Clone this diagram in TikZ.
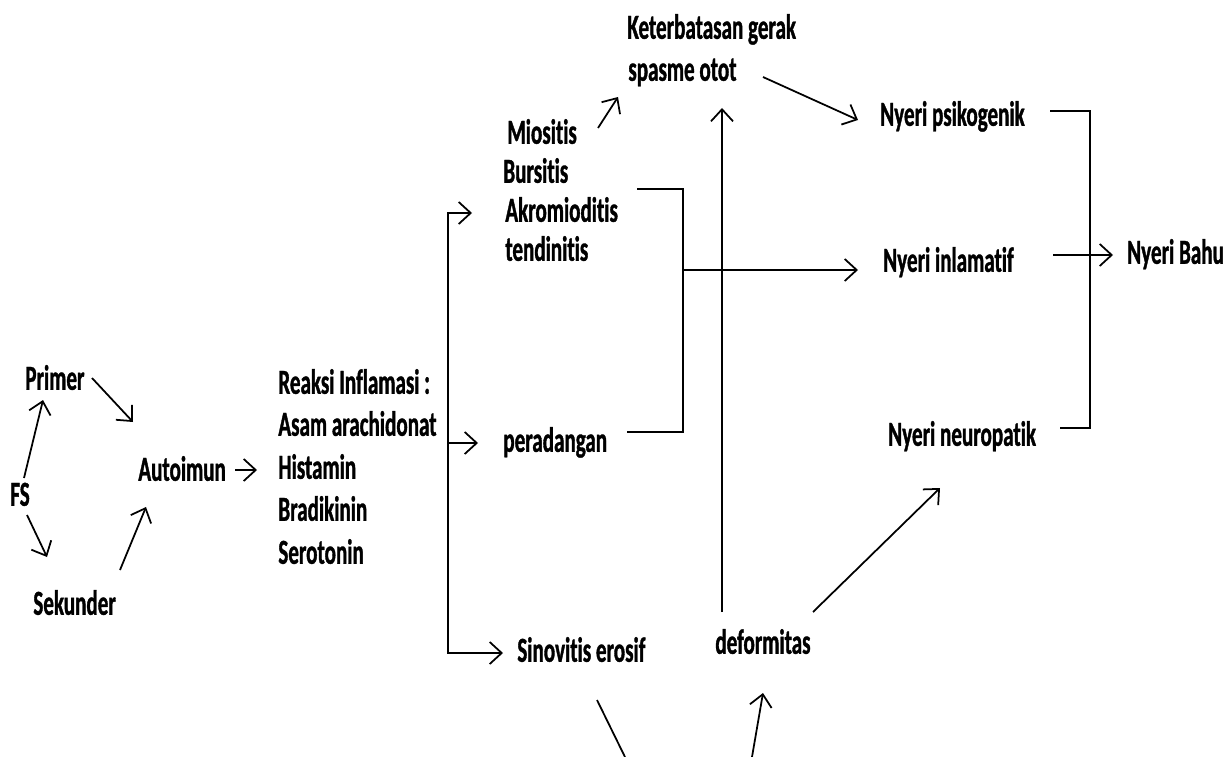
\documentclass[tikz,border=0pt]{standalone}
\usepackage{fontspec}
\setmainfont{Carlito}[FakeStretch=0.6,Ligatures=NoCommon,BoldFeatures={FakeBold=1}]
\usetikzlibrary{arrows.meta}

\begin{document}
\begin{tikzpicture}[x=0.02cm,y=-0.02cm]

\tikzstyle{term} = [anchor=west,inner sep=0pt,text height=15pt,text depth=5pt,font=\fontsize{20}{24}\selectfont\bfseries]
\tikzstyle{link} = [-{Straight Barb[length=2.4mm,width=4.4mm]},line width=1pt]
\tikzstyle{bar} = [line width=1pt]

\useasboundingbox (0,0) rectangle (1231,757);

% left side
\node[term](fs) at (10,497){FS};
\node[term](primer) at (25,381){Primer};
\node[term](sekunder) at (33,606){Sekunder};
\node[term](autoimun) at (138,472){Autoimun};

\node[term](reaksi) at (278,385){Reaksi Inflamasi :};
\node[term](asam) at (278,427){Asam arachidonat};
\node[term](histamin) at (278,470){Histamin};
\node[term](bradikinin) at (278,512){Bradikinin};
\node[term](serotonin) at (278,555){Serotonin};

% middle
\node[term](miositis) at (507,135){Miositis};
\node[term](bursitis) at (503,174){Bursitis};
\node[term](akromioditis) at (505,213){Akromioditis};
\node[term](tendinitis) at (505,252){tendinitis};
\node[term](peradangan) at (503,443){peradangan};
\node[term](sinovitis) at (517,653){Sinovitis erosif};
\node[term](deformitas) at (715,645){deformitas};

\node[term](keterbatasan) at (627,30){Keterbatasan gerak};
\node[term](spasme) at (628,72){spasme otot};

% right side
\node[term](psikogenik) at (880,117){Nyeri psikogenik};
\node[term](inlamatif) at (883,263){Nyeri inlamatif};
\node[term](neuropatik) at (888,437){Nyeri neuropatik};
\node[term](bahu) at (1127,255){Nyeri Bahu};

\coordinate (split) at (448,443);
\coordinate (bjoin) at (683,270);
\coordinate (rjoin) at (1090,255);
\coordinate (cutL) at (625,757);
\coordinate (cutR) at (752,757);

\draw[link] ([shift={(14,-19)}]fs.west) -- ([shift={(18,19)}]primer.west);
\draw[link] ([shift={(67,-3)}]primer.west) -- ([shift={(-5,-50)}]autoimun.west);
\draw[link] ([shift={(17,18)}]fs.west) -- ([shift={(14,-49)}]sekunder.west);
\draw[link] ([shift={(87,-36)}]sekunder.west) -- ([shift={(8,35)}]autoimun.west);
\draw[link] ([shift={(97,-2)}]autoimun.west) -- ([shift={(-21,0)}]histamin.west);

\draw[link] (split) |- ([shift={(-33,0)}]akromioditis.west);
\draw[link] (split) -- ([shift={(-25,0)}]peradangan.west);
\draw[link] (split) |- ([shift={(-14,0)}]sinovitis.west);

\draw[bar] ([shift={(134,15)}]bursitis.west) -| (bjoin) |- ([shift={(124,-11)}]peradangan.west);
\draw[link] (bjoin) -- ([shift={(-25,7)}]inlamatif.west);

\draw[link] ([shift={(91,-7)}]miositis.west) -- ([shift={(-10,25)}]spasme.west);
\draw[link] ([shift={(7,-33)}]deformitas.west) -- ([shift={(94,36)}]spasme.west);
\draw[link] ([shift={(135,5)}]spasme.west) -- ([shift={(-22,3)}]psikogenik.west);

\draw[bar] ([shift={(170,-6)}]psikogenik.west) -| (rjoin) |- ([shift={(172,-9)}]neuropatik.west);
\draw[link] ([shift={(170,-8)}]inlamatif.west) -- ([shift={(-14,0)}]bahu.west);

\draw[link] ([shift={(98,-33)}]deformitas.west) -- ([shift={(52,51)}]neuropatik.west);

\draw[bar] ([shift={(80,47)}]sinovitis.west) -- (cutL);
\draw[link] (cutR) -- ([shift={(48,48)}]deformitas.west);

\end{tikzpicture}
\end{document}
